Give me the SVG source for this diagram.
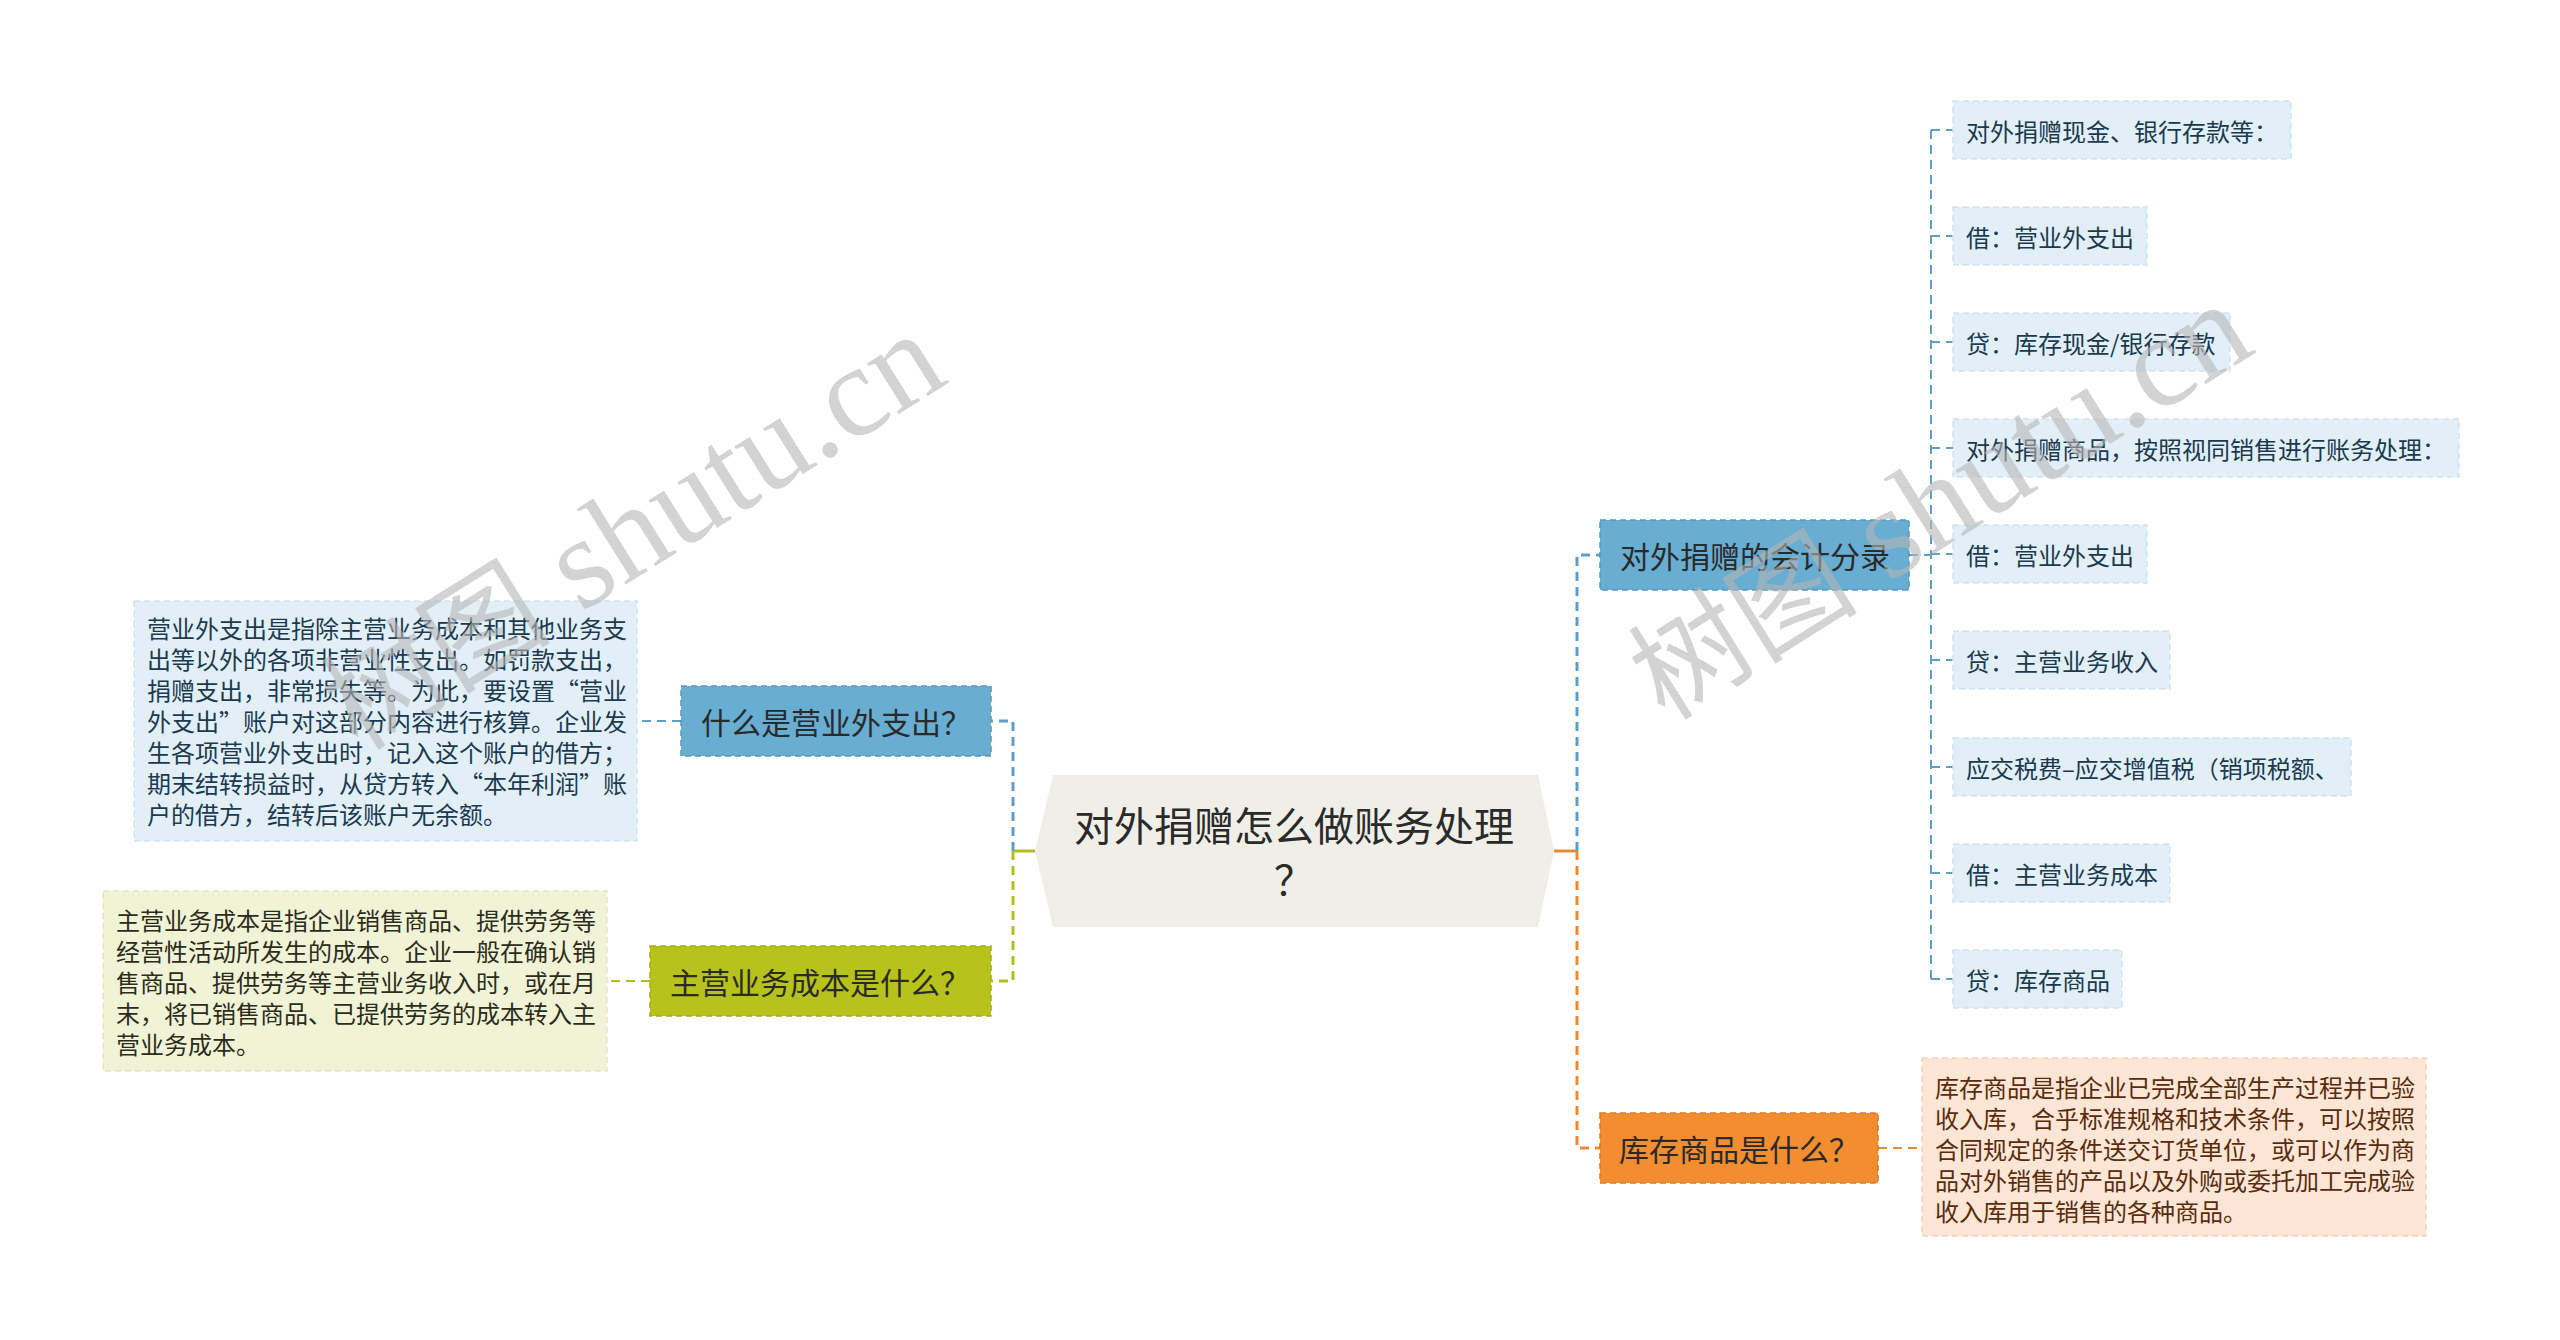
<svg xmlns="http://www.w3.org/2000/svg" width="2560" height="1340" viewBox="0 0 2560 1340">
<style>
  text { font-family: "Noto Sans CJK SC", "Noto Sans", sans-serif; }
  .c { stroke-width: 3; fill: none; }
  .blue { stroke: #5e9fc6; }
  .olive { stroke: #b5bf1c; }
  .orange { stroke: #ef8a2c; }
  .dash { stroke-dasharray: 9 6; }
  .thin { stroke-width: 2; }
  .nodeBlue { fill: #68add2; stroke: #5796ba; stroke-width: 1.5; stroke-dasharray: 6 4; }
  .nodeOlive { fill: #b7c21a; stroke: #a3ad14; stroke-width: 1.5; stroke-dasharray: 6 4; }
  .nodeOrange { fill: #f28d30; stroke: #dc7a22; stroke-width: 1.5; stroke-dasharray: 6 4; }
  .leaf { fill: #e2eff7; stroke: #d2e4ef; stroke-width: 1.5; stroke-dasharray: 6 4; }
  .descOlive { fill: #f1f3d7; stroke: #e3e6c2; stroke-width: 1.5; stroke-dasharray: 6 4; }
  .descOrange { fill: #fde6d6; stroke: #f5d3bb; stroke-width: 1.5; stroke-dasharray: 6 4; }
  .t30 { font-size: 30px; fill: #2a2a2a; }
  .t24 { font-size: 24px; }
  .navy { fill: #1b3a50; }
  .dark { fill: #2c2c1a; }
  .brown { fill: #5a2c0c; }
  text.wm { fill: #b5b5b5; fill-opacity: 0.6; font-family: "Liberation Serif", "Noto Sans CJK SC", serif; }
</style>

<g id="connectors">
  <line class="c olive" x1="1035" y1="851" x2="1013" y2="851"/>
  <polyline class="c blue dash" points="1013,851 1013,721 991,721"/>
  <polyline class="c olive dash" points="1013,851 1013,981 991,981"/>
  <line class="c orange" x1="1554" y1="851" x2="1577" y2="851"/>
  <polyline class="c blue dash" points="1577,851 1577,555 1600,555"/>
  <polyline class="c orange dash" points="1577,851 1577,1148 1600,1148"/>
  <line class="c blue dash thin" x1="681" y1="721" x2="637" y2="721"/>
  <line class="c olive dash thin" x1="650" y1="981" x2="607" y2="981"/>
  <line class="c orange dash thin" x1="1878" y1="1148" x2="1922" y2="1148"/>
  <line class="c blue dash thin" x1="1909" y1="555" x2="1931" y2="555"/>
  <line class="c blue dash thin" x1="1931" y1="130" x2="1931" y2="979"/>
  <line class="c blue dash thin" x1="1931" y1="130" x2="1953" y2="130"/>
  <line class="c blue dash thin" x1="1931" y1="236" x2="1953" y2="236"/>
  <line class="c blue dash thin" x1="1931" y1="342" x2="1953" y2="342"/>
  <line class="c blue dash thin" x1="1931" y1="448" x2="1953" y2="448"/>
  <line class="c blue dash thin" x1="1931" y1="554" x2="1953" y2="554"/>
  <line class="c blue dash thin" x1="1931" y1="660" x2="1953" y2="660"/>
  <line class="c blue dash thin" x1="1931" y1="767" x2="1953" y2="767"/>
  <line class="c blue dash thin" x1="1931" y1="873" x2="1953" y2="873"/>
  <line class="c blue dash thin" x1="1931" y1="979" x2="1953" y2="979"/>
</g>

<g id="root">
  <polygon points="1035,851 1053,775 1538,775 1554,851 1538,927 1053,927" fill="#efefe8"/>
  <text x="1294" y="824" font-size="40" fill="#2a2a2a" text-anchor="middle" dominant-baseline="central">对外捐赠怎么做账务处理</text>
  <text x="1294" y="878" font-size="40" fill="#2a2a2a" text-anchor="middle" dominant-baseline="central">？</text>
</g>

<g id="n-yingyewai">
  <rect class="nodeBlue" x="681" y="686" width="310" height="70"/>
  <text class="t30" x="701" y="721" dominant-baseline="central">什么是营业外支出？</text>
</g>
<g id="d-yingyewai">
  <rect class="leaf" x="134" y="601" width="503" height="240"/>
  <text class="t24 navy" dominant-baseline="central">
    <tspan x="147" y="627">营业外支出是指除主营业务成本和其他业务支</tspan>
    <tspan x="147" y="658">出等以外的各项非营业性支出。如罚款支出，</tspan>
    <tspan x="147" y="689">捐赠支出，非常损失等。为此，要设置“营业</tspan>
    <tspan x="147" y="720">外支出”账户对这部分内容进行核算。企业发</tspan>
    <tspan x="147" y="751">生各项营业外支出时，记入这个账户的借方；</tspan>
    <tspan x="147" y="782">期末结转损益时，从贷方转入“本年利润”账</tspan>
    <tspan x="147" y="813">户的借方，结转后该账户无余额。</tspan>
  </text>
</g>

<g id="n-zhuying">
  <rect class="nodeOlive" x="650" y="946" width="341" height="70"/>
  <text class="t30" x="670" y="981" dominant-baseline="central">主营业务成本是什么？</text>
</g>
<g id="d-zhuying">
  <rect class="descOlive" x="103" y="891" width="504" height="180"/>
  <text class="t24 dark" dominant-baseline="central">
    <tspan x="116" y="919">主营业务成本是指企业销售商品、提供劳务等</tspan>
    <tspan x="116" y="950">经营性活动所发生的成本。企业一般在确认销</tspan>
    <tspan x="116" y="981">售商品、提供劳务等主营业务收入时，或在月</tspan>
    <tspan x="116" y="1012">末，将已销售商品、已提供劳务的成本转入主</tspan>
    <tspan x="116" y="1043">营业务成本。</tspan>
  </text>
</g>

<g id="n-fenlu">
  <rect class="nodeBlue" x="1600" y="520" width="309" height="70"/>
  <text class="t30" x="1620" y="555" dominant-baseline="central">对外捐赠的会计分录</text>
</g>

<g id="leaf1"><rect class="leaf" x="1953" y="101" width="338" height="58"/><text class="t24 navy" x="1966" y="130" dominant-baseline="central">对外捐赠现金、银行存款等：</text></g>
<g id="leaf2"><rect class="leaf" x="1953" y="207" width="194" height="58"/><text class="t24 navy" x="1966" y="236" dominant-baseline="central">借：营业外支出</text></g>
<g id="leaf3"><rect class="leaf" x="1953" y="313" width="277" height="58"/><text class="t24 navy" x="1966" y="342" dominant-baseline="central">贷：库存现金/银行存款</text></g>
<g id="leaf4"><rect class="leaf" x="1953" y="419" width="506" height="58"/><text class="t24 navy" x="1966" y="448" dominant-baseline="central">对外捐赠商品，按照视同销售进行账务处理：</text></g>
<g id="leaf5"><rect class="leaf" x="1953" y="525" width="194" height="58"/><text class="t24 navy" x="1966" y="554" dominant-baseline="central">借：营业外支出</text></g>
<g id="leaf6"><rect class="leaf" x="1953" y="631" width="217" height="58"/><text class="t24 navy" x="1966" y="660" dominant-baseline="central">贷：主营业务收入</text></g>
<g id="leaf7"><rect class="leaf" x="1953" y="738" width="398" height="58"/><text class="t24 navy" x="1966" y="767" dominant-baseline="central">应交税费–应交增值税（销项税额、</text></g>
<g id="leaf8"><rect class="leaf" x="1953" y="844" width="217" height="58"/><text class="t24 navy" x="1966" y="873" dominant-baseline="central">借：主营业务成本</text></g>
<g id="leaf9"><rect class="leaf" x="1953" y="950" width="169" height="58"/><text class="t24 navy" x="1966" y="979" dominant-baseline="central">贷：库存商品</text></g>

<g id="n-kucun">
  <rect class="nodeOrange" x="1600" y="1113" width="278" height="70"/>
  <text class="t30" x="1619" y="1148" dominant-baseline="central">库存商品是什么？</text>
</g>
<g id="d-kucun">
  <rect class="descOrange" x="1922" y="1058" width="504" height="178"/>
  <text class="t24 brown" dominant-baseline="central">
    <tspan x="1935" y="1086">库存商品是指企业已完成全部生产过程并已验</tspan>
    <tspan x="1935" y="1117">收入库，合乎标准规格和技术条件，可以按照</tspan>
    <tspan x="1935" y="1148">合同规定的条件送交订货单位，或可以作为商</tspan>
    <tspan x="1935" y="1179">品对外销售的产品以及外购或委托加工完成验</tspan>
    <tspan x="1935" y="1210">收入库用于销售的各种商品。</tspan>
  </text>
</g>

<g id="watermarks">
  <text class="wm" transform="translate(358,752) rotate(-32)"><tspan font-size="115">树图</tspan><tspan font-size="130"> shutu.cn</tspan></text>
  <text class="wm" transform="translate(1665,722) rotate(-32)"><tspan font-size="115">树图</tspan><tspan font-size="130"> shutu.cn</tspan></text>
</g>
</svg>
